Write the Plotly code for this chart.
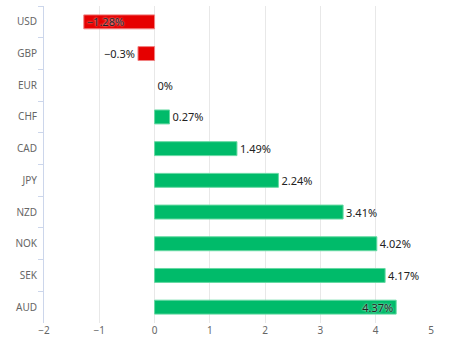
import plotly.graph_objects as go

currencies = ["USD", "GBP", "EUR", "CHF", "CAD", "JPY", "NZD", "NOK", "SEK", "AUD"]
changes = [-1.28, -0.3, 0, 0.27, 1.49, 2.24, 3.41, 4.02, 4.17, 4.37]
x_ticks = [-2, -1, 0, 1, 2, 3, 4, 5]

colors = ["#e60000" if v < 0 else "#00bb6a" for v in changes]
line_colors = ["#f08080" if v < 0 else "#66d9a3" for v in changes]
line_widths = [0 if v == 0 else 1 for v in changes]
labels = [f"{v:g}%".replace("-", "\u2212") for v in changes]
positions = ["inside" if c in ("USD", "AUD") else "outside" for c in currencies]

fig = go.Figure(go.Bar(
    y=currencies, x=changes, orientation="h",
    marker=dict(color=colors, line=dict(color=line_colors, width=line_widths)),
    text=labels, textposition=positions,
    insidetextanchor="end",
    textfont=dict(family="Noto Sans", size=11, color="#222"),
    insidetextfont=dict(family="Noto Sans", size=11, color="#222", shadow="0px 0px 2px white"),
    outsidetextfont=dict(family="Noto Sans", size=11, color="#222"),
    cliponaxis=False,
    hoverinfo="skip",
))

fig.update_layout(
    width=449, height=356,
    margin=dict(l=44, r=18, t=6, b=33, autoexpand=False),
    paper_bgcolor="white", plot_bgcolor="white",
    bargap=0.56,
    showlegend=False,
    uniformtext=dict(minsize=11, mode="show"),
    font=dict(family="Noto Sans", size=11, color="#666"),
    xaxis=dict(
        range=[-2, 5], tickvals=x_ticks, ticktext=[str(t).replace("-", "\u2212") for t in x_ticks],
        showgrid=True, gridcolor="#e8e8e8", gridwidth=1, zeroline=False,
        showline=False, ticks="", tickfont=dict(size=10, color="#666"), automargin=False,
    ),
    yaxis=dict(
        autorange="reversed", showgrid=False, zeroline=False,
        showline=True, linecolor="#ccd6eb", linewidth=1,
        ticks="outside", tickson="boundaries", ticklen=5, tickcolor="#ccd6eb",
        tickfont=dict(size=10, color="#666"), ticklabelstandoff=4, automargin=False,
    ),
)

fig.write_html("out.html", config={"displayModeBar": False},
               post_script="document.body.style.margin='0';")
